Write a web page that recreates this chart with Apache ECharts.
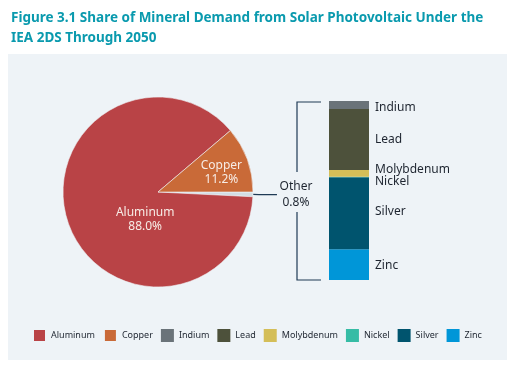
<!DOCTYPE html>
<html><head><meta charset="utf-8">
<style>html,body{margin:0;padding:0;background:#fff}#c{width:515px;height:371px}</style>
<script src="https://cdn.jsdelivr.net/npm/echarts@6/dist/echarts.min.js"></script>
</head><body><div id="c"></div>
<script>
var titleText = 'Figure 3.1 Share of Mineral Demand from Solar Photovoltaic Under the\nIEA 2DS Through 2050';
var pieNames = ['Other', 'Aluminum', 'Copper'];
var pieValues = [0.8, 88.0, 11.2];
var pieColors = ['#d3dde4', '#b94346', '#c96a38'];
// breakdown of "Other" (% of total), top to bottom
var otherNames = ['Indium', 'Lead', 'Molybdenum', 'Nickel', 'Silver', 'Zinc'];
var otherValues = [0.036, 0.272, 0.031, 0.002, 0.322, 0.137];
var otherColors = ['#6a7379', '#4d513b', '#d4be58', '#36bca5', '#00546e', '#0096d8'];
var otherLabelDy = [3, 0, -4, 5, -2, 1];
var legendNames = ['Aluminum', 'Copper', 'Indium', 'Lead', 'Molybdenum', 'Nickel', 'Silver', 'Zinc'];

var FONT = '"Noto Sans", sans-serif';
var chart = echarts.init(document.getElementById('c'));
var total = otherValues.reduce(function (a, b) { return a + b; }, 0);

var barSeries = [];
for (var i = otherNames.length - 1; i >= 0; i--) {
  barSeries.push({
    type: 'bar', name: otherNames[i], stack: 'other', barWidth: '100%',
    xAxisIndex: 0, yAxisIndex: 0,
    itemStyle: { color: otherColors[i] },
    data: [otherValues[i]],
    label: { show: true, position: 'right', distance: 6, offset: [0, otherLabelDy[i]],
      formatter: otherNames[i], color: '#1e2530', fontSize: 12, fontFamily: FONT }
  });
}

chart.setOption({
  backgroundColor: '#ffffff',
  animation: false,
  textStyle: { fontFamily: FONT },
  title: { text: titleText, left: 6, top: 3,
    textStyle: { color: '#0a9aae', fontSize: 13.5, fontWeight: 'bold', lineHeight: 20, fontFamily: FONT } },
  graphic: [
    { type: 'rect', z: -10, shape: { x: 8, y: 54, width: 499, height: 306 }, style: { fill: '#eef3f7' } },
    { type: 'polyline', z: 10, shape: { points: [[321, 102], [297, 102], [297, 172]] }, style: { stroke: '#1f3a55', lineWidth: 1.2, fill: null } },
    { type: 'polyline', z: 10, shape: { points: [[297, 212], [297, 280], [321, 280]] }, style: { stroke: '#1f3a55', lineWidth: 1.2, fill: null } }
  ],
  legend: {
    data: legendNames, left: 27, top: 323, itemWidth: 13, itemHeight: 13, itemGap: 8,
    icon: 'rect', textStyle: { fontSize: 9, color: '#1e2530', fontFamily: FONT }
  },
  grid: { left: 329, top: 101, width: 40, height: 179 },
  xAxis: { type: 'category', data: ['Other'], show: false },
  yAxis: { type: 'value', min: 0, max: total, show: false },
  series: [{
    type: 'pie', center: [158, 192], radius: 95, startAngle: 0, clockwise: true,
    avoidLabelOverlap: false,
    itemStyle: { borderColor: '#eef3f7', borderWidth: 0.6 },
    data: pieNames.map(function (n, k) {
      var d = { name: n, value: pieValues[k], itemStyle: { color: pieColors[k] } };
      if (n === 'Other') {
        d.label = { position: 'outside', distanceToLabelLine: 2, color: '#1e2530', fontSize: 12, lineHeight: 16,
          formatter: '{a|{b}}\n{a|{c}%}', rich: { a: { width: 34, align: 'center', fontSize: 12, lineHeight: 16, color: '#1e2530' } } };
        d.labelLine = { show: true, length: 6, length2: 18, lineStyle: { color: '#1f3a55', width: 1.2 } };
      } else {
        d.label = { position: 'inside', color: '#f7ece6', fontSize: 12, lineHeight: 14,
          formatter: function (p) { return p.name + '\n' + p.value.toFixed(1) + '%'; } };
        d.labelLine = { show: false };
      }
      return d;
    }),
    labelLayout: function (p) {
      if (p.dataIndex === 2) return { dx: 16, dy: -2 };
      if (p.dataIndex === 1) return { dx: 35, dy: 11 };
      return {};
    }
  }].concat(barSeries)
});
</script></body></html>
